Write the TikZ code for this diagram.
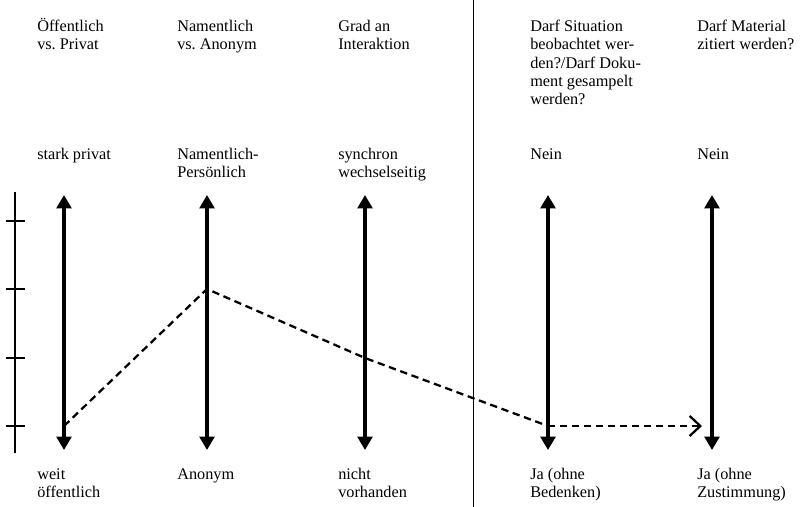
\documentclass[tikz,border=0pt]{standalone}
\usepackage{fontspec}
\setmainfont{Liberation Serif}
\usetikzlibrary{arrows.meta}
\tikzset{
  lbl/.style={anchor=north west,inner sep=0pt,align=left,font=\fontsize{12.2pt}{13.7pt}\selectfont},
  axis/.style={line width=3.6pt,{Triangle[length=10pt,width=11pt]}-{Triangle[length=10pt,width=11pt]}},
  path/.style={line width=1.7pt,dash pattern=on 5.5pt off 3.5pt},
}
\begin{document}
\begin{tikzpicture}[x=0.75pt,y=-0.75pt]
      \useasboundingbox (0,0) rectangle (801,507);
      % axis ends
      \draw
        (64,195) coordinate (a1) (64,450) coordinate (b1)
        (207,195) coordinate (a2) (207,450) coordinate (b2)
        (365,195) coordinate (a3) (365,450) coordinate (b3)
        (548,195) coordinate (a4) (548,450) coordinate (b4)
        (712,195) coordinate (a5) (712,450) coordinate (b5);
      % points on the axes
      \draw
        (64,426) coordinate (p1)
        (207,289) coordinate (p2)
        (365,358) coordinate (p3)
        (548,426) coordinate (p4)
        (702,426) coordinate (p5);
      % labels
      \draw
        (37,18) node[lbl] (t1){Öffentlich\\vs.\ Privat}
        (177,20) node[lbl] (t2){Namentlich\\vs.\ Anonym}
        (338,20) node[lbl] (t3){Grad an\\Interaktion}
        (530,20) node[lbl] (t4){Darf Situation\\beobachtet wer-\\den?/Darf Doku-\\ment gesampelt\\werden?}
        (697,20) node[lbl] (t5){Darf Material\\zitiert werden?}
        (37,148) node[lbl] (o1){stark privat}
        (177,148) node[lbl] (o2){Namentlich-\\Persönlich}
        (338,148) node[lbl] (o3){synchron\\wechselseitig}
        (530,148) node[lbl] (o4){Nein}
        (697,148) node[lbl] (o5){Nein}
        (37,468) node[lbl] (u1){weit\\öffentlich}
        (177,468) node[lbl] (u2){Anonym}
        (338,468) node[lbl] (u3){nicht\\vorhanden}
        (530,468) node[lbl] (u4){Ja (ohne\\Bedenken)}
        (697,468) node[lbl] (u5){Ja (ohne\\Zustimmung)};
      % scale
      \draw[line width=1.1pt] (15,192) coordinate (s0) -- (15,453) coordinate (s5);
      \foreach \y in {221,289,358,426}
        \draw[line width=1.1pt] (6,\y) -- (25,\y);
      % separator
      \draw[line width=0.7pt] (473,0) coordinate (m0) -- (473,507) coordinate (m1);
      \begin{scope}
        \draw[axis] (a1) to (b1);
        \draw[axis] (a2) to (b2);
        \draw[axis] (a3) to (b3);
        \draw[axis] (a4) to (b4);
        \draw[axis] (a5) to (b5);
      \end{scope}
      \begin{scope}[path]
        \draw (p1) -- (p2) -- (p3) -- (p4);
        \draw[-{Straight Barb[length=8pt,width=15pt]}] (p4) -- (p5);
      \end{scope}
    \end{tikzpicture}
\end{document}
